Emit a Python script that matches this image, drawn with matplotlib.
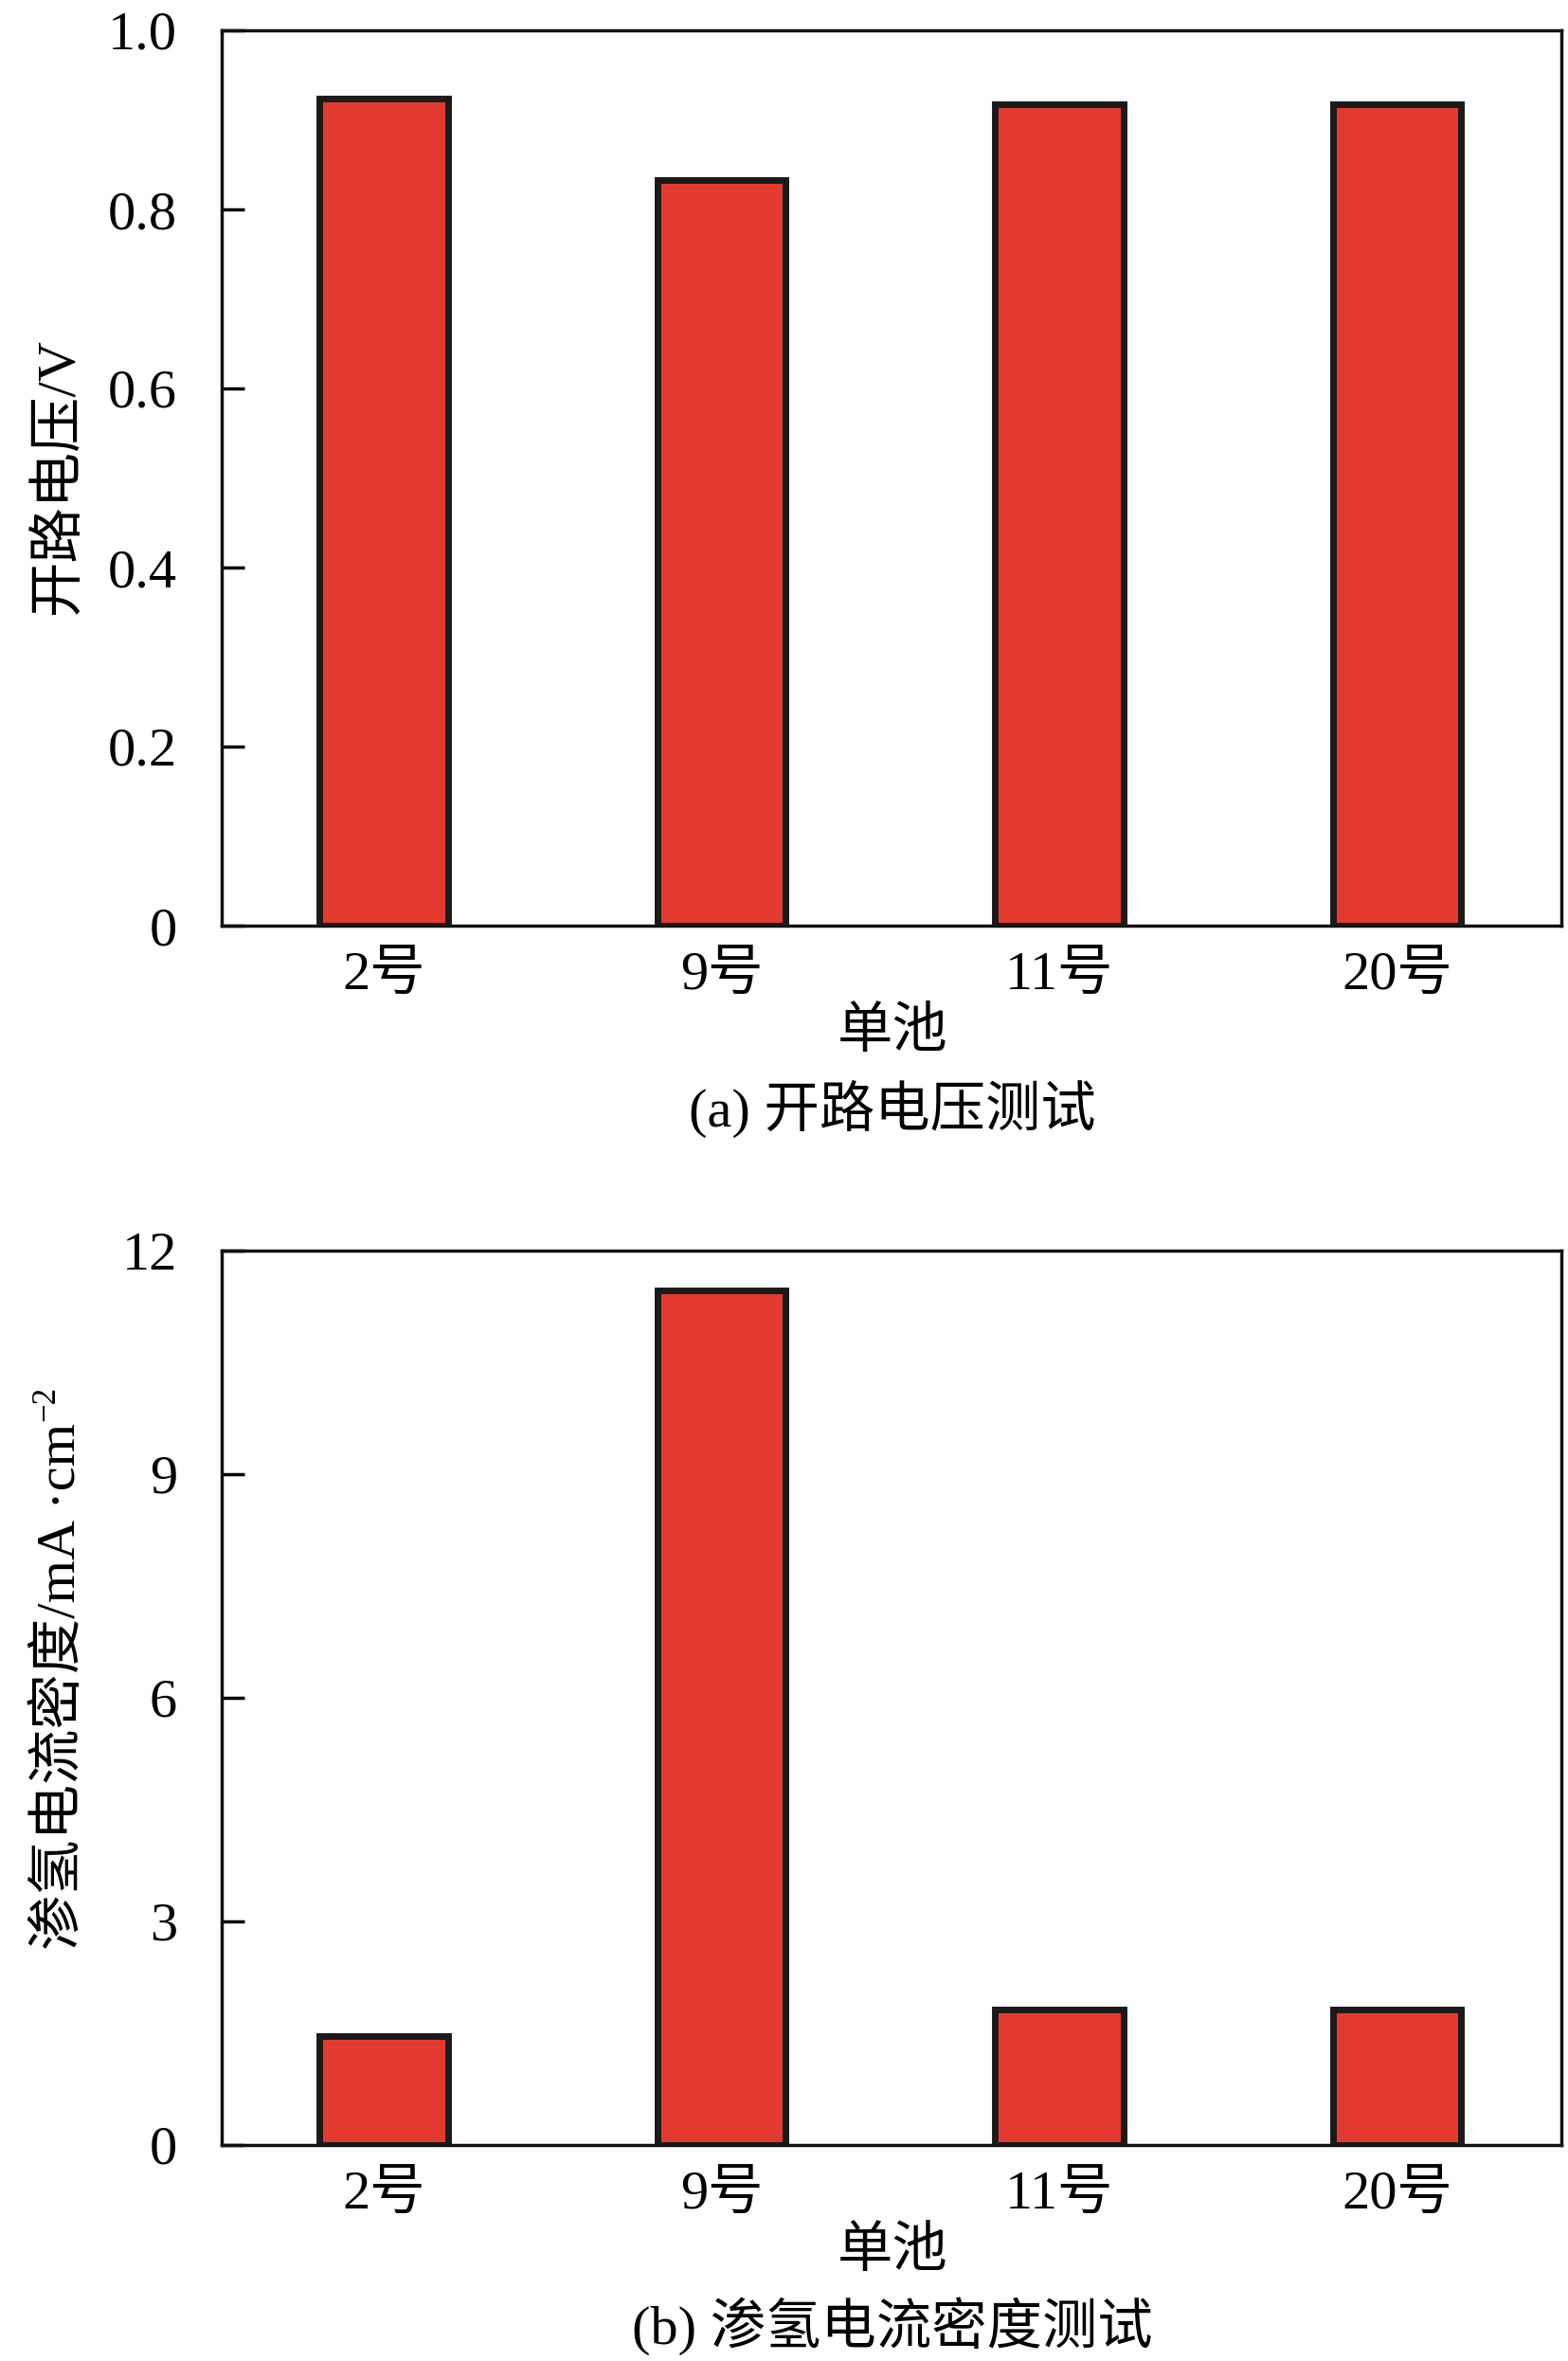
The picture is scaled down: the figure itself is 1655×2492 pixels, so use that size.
import matplotlib
matplotlib.use("Agg")
import matplotlib.pyplot as plt

plt.rcParams['font.family'] = ['Liberation Serif', 'Noto Sans CJK SC', 'DejaVu Sans']

cells = ["2号", "9号", "11号", "20号"]
ocv = [0.924, 0.833, 0.917, 0.917]
crossover = [1.46, 11.46, 1.82, 1.82]

ocv_ticks = [0, 0.2, 0.4, 0.6, 0.8, 1.0]
ocv_ticklabels = ["0", "0.2", "0.4", "0.6", "0.8", "1.0"]
cur_ticks = [0, 3, 6, 9, 12]
cur_ticklabels = ["0", "3", "6", "9", "12"]

W, H = 1655, 2492
BAR = "#e33a30"
EDGE = "#1a1a1a"
FS = 42

fig = plt.figure(figsize=(W / 100, H / 100), dpi=100)


def px(x0, y0, x1, y1):
    # pixel box (top-left origin) -> figure fraction rect
    return [x0 / W, 1 - y1 / H, (x1 - x0) / W, (y1 - y0) / H]


def draw_panel(rect, values, ticks, ticklabels, ylim):
    ax = fig.add_axes(rect)
    x = range(len(cells))
    ax.bar(x, values, width=0.38, color=BAR, edgecolor=EDGE, linewidth=5, zorder=3)
    ax.set_xlim(-0.48, 3.487)
    ax.set_ylim(*ylim)
    ax.set_xticks(list(x))
    ax.set_xticklabels(cells, fontsize=FS)
    ax.set_yticks(ticks)
    ax.set_yticklabels(ticklabels, fontsize=FS)
    ax.tick_params(axis='x', length=0, pad=20)
    ax.tick_params(axis='y', direction='in', length=17, width=2.5, pad=34)
    for s in ax.spines.values():
        s.set_linewidth(2.5)
        s.set_color("#111111")
    return ax


ax1 = draw_panel(px(234, 32, 1648, 977), ocv, ocv_ticks, ocv_ticklabels, (0, 1.0))
ax2 = draw_panel(px(234, 1320, 1648, 2264), crossover, cur_ticks, cur_ticklabels, (0, 12))

fig.text(62 / W, 1 - 502 / H, "开路电压/V", rotation=90, ha='center', va='center', fontsize=FS)

# second y label: CJK + unit, superscript drawn as its own text
lab = fig.text(64 / W, 1 - 1780 / H, "渗氢电流密度/mA ·cm", rotation=90,
               ha='center', va='center', fontsize=FS)
fig.canvas.draw()
bb = lab.get_window_extent(fig.canvas.get_renderer())
fig.text((bb.x0 - 4) / W, (bb.y1 + 2) / H, "−2", rotation=90,
         ha='left', va='bottom', fontsize=FS * 0.6)

fig.text(942 / W, 1 - 1090 / H, "单池", ha='center', va='center', fontsize=FS)
fig.text(942 / W, 1 - 1170 / H, "(a) 开路电压测试", ha='center', va='center', fontsize=FS)
fig.text(942 / W, 1 - 2377 / H, "单池", ha='center', va='center', fontsize=FS)
fig.text(942 / W, 1 - 2455 / H, "(b) 渗氢电流密度测试", ha='center', va='center', fontsize=FS)

fig.savefig("out.png", dpi=100)
